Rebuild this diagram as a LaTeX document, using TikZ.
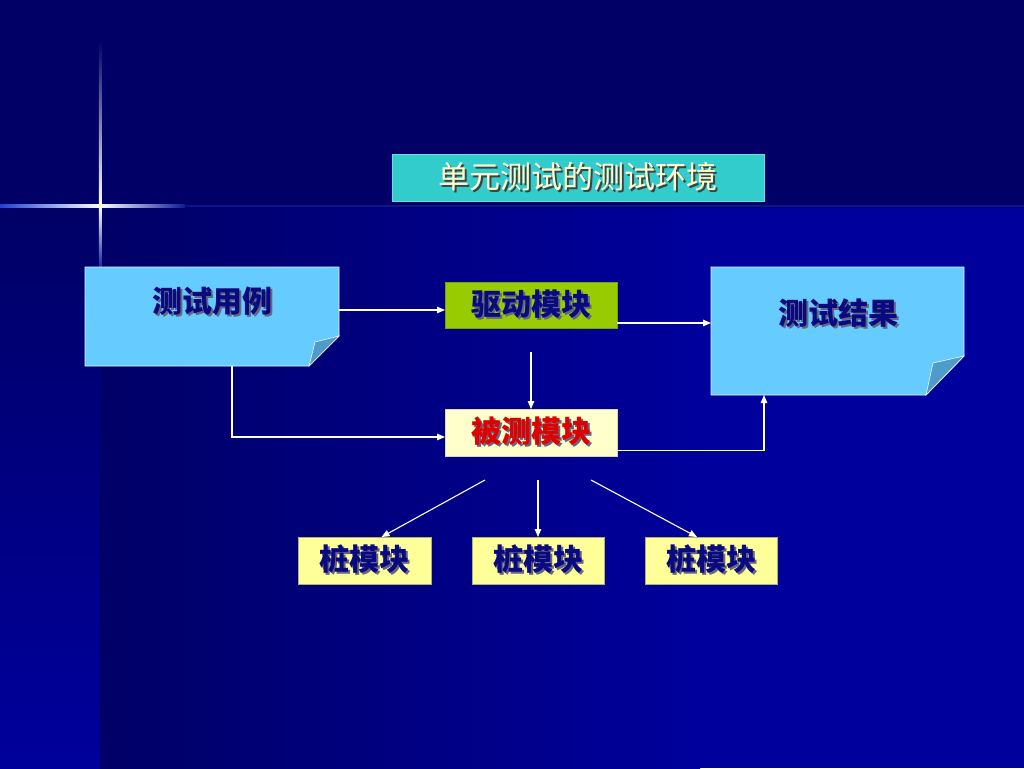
\documentclass[tikz,border=0pt]{standalone}
\usepackage{fontspec}
\newfontfamily\cjk{Noto Sans CJK SC}
\usetikzlibrary{arrows.meta,calc}
\definecolor{navybg}{HTML}{000066}
\definecolor{brightbg}{HTML}{00009C}
\definecolor{glowblue}{HTML}{2A5CFF}
\definecolor{titlefill}{HTML}{33CCCC}
\definecolor{titletext}{HTML}{FFFFCC}
\definecolor{notefill}{HTML}{66CCFF}
\definecolor{noteflap}{HTML}{4F9BCC}
\definecolor{drvfill}{HTML}{99CC00}
\definecolor{dutfill}{HTML}{FFFFCC}
\definecolor{stubfill}{HTML}{FFFF99}
\definecolor{labnavy}{HTML}{0A0A80}
\definecolor{labred}{HTML}{E00000}
\definecolor{shadowgray}{HTML}{666680}
\newcommand\shtxt[3]{\makebox[0pt][l]{\hspace{2pt}\raisebox{-2pt}{\color{#2}#3}}{\color{#1}#3}}
\tikzset{
  box/.style={rectangle, inner sep=0pt, outer sep=0pt, draw=#1, line width=0.6pt},
  lab/.style={inner sep=0pt, font=\cjk\bfseries\fontsize{30pt}{30pt}\selectfont},
  conn/.style={draw=white, line width=1.1pt, -{Triangle[length=8pt,width=6.5pt]}},
}
\begin{document}
\begin{tikzpicture}[x=1pt,y=-1pt]
\useasboundingbox (0,0) rectangle (1024,768);
% background
\fill[navybg] (0,0) rectangle (1024,768);
\shade[top color=navybg, bottom color=brightbg] (0,208) rectangle (100,768);
\shade[left color=navybg, right color=brightbg] (100,208) rectangle (700,768);
\fill[brightbg] (700,208) rectangle (1024,768);
% star glow
\shade[top color=navybg, middle color=glowblue, bottom color=white] (98.8,40) rectangle (101.4,206);
\shade[top color=white, middle color=glowblue, bottom color=navybg!60!glowblue] (98.8,206) rectangle (101.4,268);
\shade[left color=glowblue!70!navybg, middle color=glowblue, right color=white] (0,204.8) rectangle (100,207.4);
\shade[left color=white, middle color=glowblue, right color=glowblue!30!navybg] (100,204.8) rectangle (185,207.4);
\fill[glowblue!25!navybg] (185,205.2) rectangle (1024,207);
\fill[white!80!yellow] (100.1,206.1) circle (2.2pt);
% title
\node[box=titlefill!70!white, fill=titlefill, minimum width=372pt, minimum height=47pt] (title) at (578,177.5) {};
\node[inner sep=0pt, font=\cjk\fontsize{31pt}{31pt}\selectfont] (titlel) at (title.center) {\shtxt{titletext}{black!75}{单元测试的测试环境}};
% test cases note
\node[rectangle, inner sep=0pt, outer sep=0pt, minimum width=254pt, minimum height=99pt] (tc) at (212,316.5) {};
\draw[fill=notefill, draw=white!85!notefill, line width=0.8pt]
  (tc.north west) -- (tc.north east) -- ([yshift=30pt]tc.south east) -- ([xshift=-30pt]tc.south east) -- (tc.south west) -- cycle;
\draw[fill=noteflap, draw=white!85!notefill, line width=0.6pt]
  ([xshift=-30pt]tc.south east) -- ([yshift=30pt]tc.south east) -- ([xshift=-24pt,yshift=24pt]tc.south east) -- cycle;
\node[lab] (tcl) at (212,302) {\shtxt{labnavy}{shadowgray}{测试用例}};
% results note
\node[rectangle, inner sep=0pt, outer sep=0pt, minimum width=253pt, minimum height=128pt] (res) at (837.5,331) {};
\draw[fill=notefill, draw=white!85!notefill, line width=0.8pt]
  (res.north west) -- (res.north east) -- ([yshift=39pt]res.south east) -- ([xshift=-38pt]res.south east) -- (res.south west) -- cycle;
\draw[fill=noteflap, draw=white!85!notefill, line width=0.6pt]
  ([xshift=-38pt]res.south east) -- ([yshift=39pt]res.south east) -- ([xshift=-31pt,yshift=32pt]res.south east) -- cycle;
\node[lab] (resl) at (838,314) {\shtxt{labnavy}{shadowgray}{测试结果}};
% driver and unit under test
\node[box=drvfill!80!black, fill=drvfill, minimum width=172pt, minimum height=46pt] (drv) at (531,305) {};
\node[lab] (drvl) at (drv.center) {\shtxt{labnavy}{shadowgray}{驱动模块}};
\node[box=dutfill!85!black, fill=dutfill, minimum width=172pt, minimum height=47pt] (dut) at (531,432.5) {};
\node[lab] (dutl) at (dut.center) {\shtxt{labred}{shadowgray}{被测模块}};
% stubs
\node[box=stubfill!70!black, fill=stubfill, minimum width=133pt, minimum height=47pt] (st1) at (364.5,560.5) {};
\node[lab] (st1l) at (st1.center) {\shtxt{labnavy}{shadowgray}{桩模块}};
\node[box=stubfill!70!black, fill=stubfill, minimum width=132pt, minimum height=47pt] (st2) at (538,560.5) {};
\node[lab] (st2l) at (st2.center) {\shtxt{labnavy}{shadowgray}{桩模块}};
\node[box=stubfill!70!black, fill=stubfill, minimum width=132pt, minimum height=47pt] (st3) at (711,560.5) {};
\node[lab] (st3l) at (st3.center) {\shtxt{labnavy}{shadowgray}{桩模块}};
% connectors
\draw[conn] ([yshift=-5pt]drv.west -| tc.east) -- ([yshift=-5pt]drv.west);
\draw[conn] ([yshift=-18pt]drv.east) -- ([yshift=-18pt]drv.east -| res.west);
\coordinate (d0) at ([yshift=-24pt]drv.south);
\draw[conn] (d0) -- (dut.north);
\draw[conn] ([xshift=20pt]tc.south) |- ([yshift=-4.5pt]dut.west);
\draw[conn] ([yshift=-18pt]dut.east) -| ([xshift=-73.5pt]res.south);
\coordinate (s1) at (485,480);
\coordinate (s2) at (538,480);
\coordinate (s3) at (591,480);
\draw[conn] (s1) -- ([xshift=17pt]st1.north);
\draw[conn] (s2) -- (st2.north);
\draw[conn] (s3) -- ([xshift=-14pt]st3.north);
\end{tikzpicture}
\end{document}
